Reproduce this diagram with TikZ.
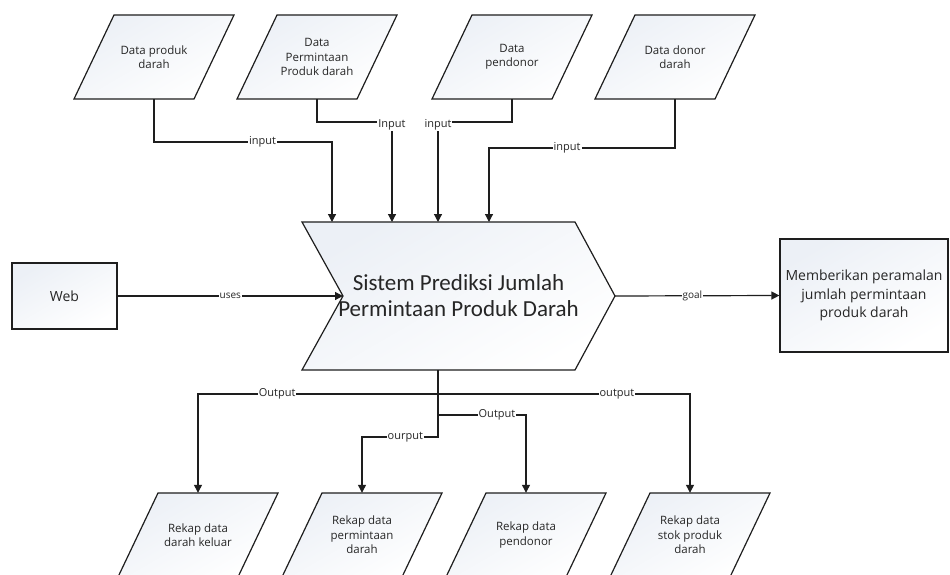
\documentclass[tikz,border=0pt]{standalone}
\usepackage{fontspec}
\setmainfont{Open Sans}
\newfontfamily\titlefont{Carlito}
\usetikzlibrary{arrows.meta}

\definecolor{edge}{HTML}{1E1E1E}
\definecolor{shadeA}{HTML}{ECF0F6}

\tikzset{
  shapefill/.style={draw=edge, line width=1.2pt, top color=shadeA, bottom color=white, shading angle=30},
  iotext/.style={draw=none, minimum width=120pt, minimum height=84pt, align=center,
    font=\fontsize{11.5}{14.5}\selectfont, text=black!85},
  boxnode/.style={shapefill, align=center, text=black!85},
  lbl/.style={fill=white, inner sep=1pt, font=\fontsize{11}{12}\selectfont, text=black!85},
  lblsmall/.style={lbl, font=\fontsize{10}{11}\selectfont},
  conn/.style={draw=edge, line width=1.2pt, -{Triangle[length=8pt,width=8pt]}},
}

% data parallelogram: name, centre x, centre y, text
\newcommand\ioshape[4]{%
  \path[shapefill] (#2,#3) ++(-40,-42) -- ++(120,0) -- ++(-40,84) -- ++(-120,0) -- cycle;
  \node[iotext] (#1) at (#2,#3) {#4};
}

\begin{document}
\begin{tikzpicture}[x=1pt, y=-1pt]
  \useasboundingbox (0,0) rectangle (950,575);
  \fill[white] (0,0) rectangle (950,575);
  \clip (0,0) rectangle (950,575);

  % input data
  \ioshape{p1}{154}{57}{Data produk\\darah}
  \ioshape{p2}{317}{57}{Data\\Permintaan\\Produk darah}
  \ioshape{p3}{512}{57}{Data\\pendonor}
  \ioshape{p4}{675}{57}{Data donor\\darah}

  % central system (chevron)
  \path[shapefill] (302,222) -- (575,222) -- (615,296) -- (575,370) -- (302,370) -- (343,296) -- cycle;
  \node[draw=none, minimum width=313pt, minimum height=148pt, align=center,
        font=\titlefont\fontsize{23}{26}\selectfont, text=black!85] (sys) at (458.5,296)
        {Sistem Prediksi Jumlah\\Permintaan Produk Darah};
  \coordinate (notch) at (343,296);
  \coordinate (trunk) at (438,370);

  % user side and goal
  \node[boxnode, minimum width=105pt, minimum height=66pt, font=\fontsize{14}{16}\selectfont] (web) at (64.5,296) {Web};
  \node[boxnode, minimum width=168pt, minimum height=113pt, font=\fontsize{14}{18.5}\selectfont] (goal) at (864,295.5)
        {Memberikan peramalan\\jumlah permintaan\\produk darah};

  % output reports
  \ioshape{b1}{198}{535}{Rekap data\\darah keluar}
  \ioshape{b2}{362}{535}{Rekap data\\permintaan\\darah}
  \ioshape{b3}{526}{535}{Rekap data\\pendonor}
  \ioshape{b4}{690}{535}{Rekap data\\stok produk\\darah}

  % inputs into the system
  \draw[conn] (p1.south -| p1.center) -- (154,142) -- node[lbl,pos=0.61]{input} (332,142) -- (332,222);
  \draw[conn] (p2.south -| p2.center) -- (317,122) -- (392,122) node[lbl,yshift=-3pt]{Input} -- (392,222);
  \draw[conn] (p3.south -| p3.center) -- (512,122) -- (438,122) node[lbl,yshift=-3pt]{input} -- (438,222);
  \draw[conn] (p4.south -| p4.center) -- (675,148) -- node[lbl,pos=0.58]{input} (489,148) -- (489,222);

  % web and goal
  \draw[conn] (web.east) -- node[lblsmall]{uses} (notch);
  \draw[conn] (sys.east) -- node[lblsmall,pos=0.47]{goal} (goal.west);

  % outputs from the system
  \draw[conn] (trunk) -- (438,394) -- node[lbl,pos=0.67]{Output} (198,394) -- (b1.north);
  \draw[conn] (trunk) -- (438,394) -- node[lbl,pos=0.71]{output} (690,394) -- (b4.north);
  \draw[conn] (trunk) -- (438,415) -- node[lbl,pos=0.67]{Output} (526,415) -- (b3.north);
  \draw[conn] (trunk) -- (438,437) -- node[lbl,pos=0.43]{ourput} (362,437) -- (b2.north);
\end{tikzpicture}
\end{document}
